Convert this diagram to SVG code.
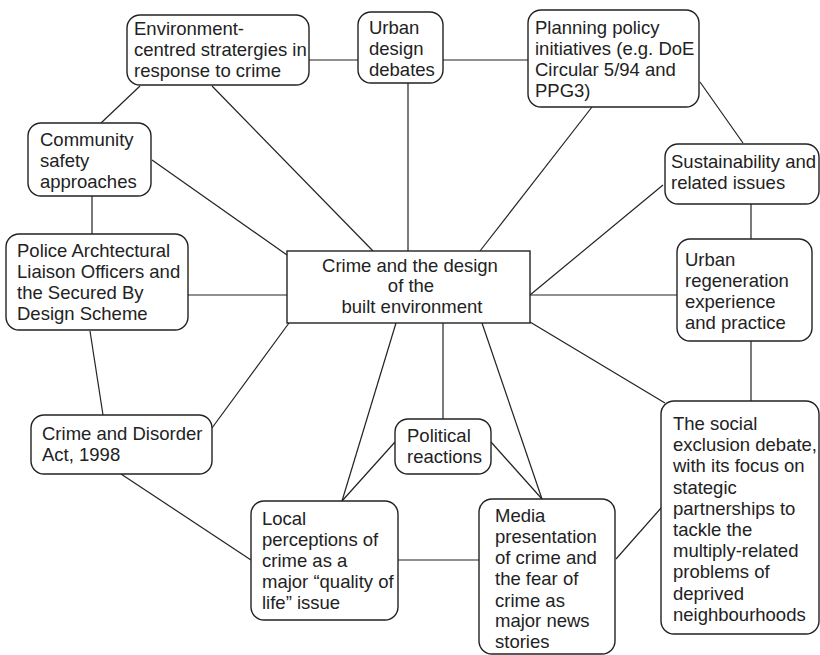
<svg xmlns="http://www.w3.org/2000/svg" width="820" height="655" viewBox="0 0 820 655">
<style>
.b{fill:#fff;stroke:#222;stroke-width:1.4}
.c{fill:#fff;stroke:#222;stroke-width:1.4}
.l{stroke:#222;stroke-width:1.2;fill:none}
text{font-family:"Liberation Sans",Arial,sans-serif;font-size:18.5px;fill:#222}
</style>
<rect width="820" height="655" fill="#fff"/>
<g id="connectors" class="l">
<line x1="309" y1="60" x2="358" y2="60"/>
<line x1="443" y1="60" x2="528" y2="60"/>
<line x1="700" y1="82" x2="743" y2="143"/>
<line x1="751" y1="204" x2="751" y2="239"/>
<line x1="140" y1="86" x2="101" y2="123"/>
<line x1="92" y1="196" x2="92" y2="234"/>
<line x1="152" y1="160" x2="287" y2="255"/>
<line x1="212" y1="86" x2="373" y2="251"/>
<line x1="408" y1="83" x2="408" y2="251"/>
<line x1="592" y1="107" x2="480" y2="251"/>
<line x1="663" y1="185" x2="530" y2="295"/>
<line x1="530" y1="295" x2="677" y2="295"/>
<line x1="188" y1="295" x2="287" y2="295"/>
<line x1="90" y1="331" x2="103" y2="415"/>
<line x1="212" y1="428" x2="289" y2="323"/>
<line x1="121" y1="474" x2="251" y2="560"/>
<line x1="342" y1="501" x2="396" y2="323"/>
<line x1="342" y1="501" x2="395" y2="442"/>
<line x1="398" y1="560" x2="480" y2="560"/>
<line x1="443" y1="323" x2="443" y2="419"/>
<line x1="491" y1="442" x2="542" y2="499"/>
<line x1="482" y1="323" x2="542" y2="499"/>
<line x1="616" y1="559" x2="661" y2="508"/>
<line x1="530" y1="322" x2="665" y2="403"/>
<line x1="751" y1="341" x2="751" y2="401"/>
</g>
<g id="center">
<rect class="c" x="287" y="251" width="243" height="72"/>
<text x="410" y="272" text-anchor="middle">Crime and the design</text>
<text x="411" y="292" text-anchor="middle">of the</text>
<text x="412" y="313" text-anchor="middle">built environment</text>
</g>
<g id="env">
<rect class="b" x="127" y="15" width="182" height="70" rx="13"/>
<text x="134" y="35">Environment-</text>
<text x="134" y="56">centred stratergies in</text>
<text x="134" y="77">response to crime</text>
</g>
<g id="urban-design">
<rect class="b" x="358" y="12" width="85" height="71" rx="13"/>
<text x="369" y="34">Urban</text>
<text x="369" y="55">design</text>
<text x="369" y="76">debates</text>
</g>
<g id="planning">
<rect class="b" x="528" y="10" width="171" height="97" rx="13"/>
<text x="535" y="34">Planning policy</text>
<text x="535" y="55">initiatives (e.g. DoE</text>
<text x="535" y="76">Circular 5/94 and</text>
<text x="535" y="97">PPG3)</text>
</g>
<g id="sustainability">
<rect class="b" x="665" y="144" width="154" height="60" rx="13"/>
<text x="671" y="168">Sustainability and</text>
<text x="671" y="189">related issues</text>
</g>
<g id="regeneration">
<rect class="b" x="677" y="239" width="135" height="102" rx="13"/>
<text x="685" y="266">Urban</text>
<text x="685" y="287">regeneration</text>
<text x="685" y="308">experience</text>
<text x="685" y="329">and practice</text>
</g>
<g id="community">
<rect class="b" x="28" y="123" width="123" height="73" rx="13"/>
<text x="40" y="146">Community</text>
<text x="40" y="167">safety</text>
<text x="40" y="188">approaches</text>
</g>
<g id="police">
<rect class="b" x="6" y="234" width="182" height="96" rx="13"/>
<text x="17" y="257">Police Archtectural</text>
<text x="17" y="278">Liaison Officers and</text>
<text x="17" y="299">the Secured By</text>
<text x="17" y="320">Design Scheme</text>
</g>
<g id="cda">
<rect class="b" x="31" y="415" width="181" height="59" rx="13"/>
<text x="42" y="440">Crime and Disorder</text>
<text x="42" y="461">Act, 1998</text>
</g>
<g id="local">
<rect class="b" x="251" y="501" width="147" height="119" rx="13"/>
<text x="262" y="525">Local</text>
<text x="262" y="546">perceptions of</text>
<text x="262" y="567">crime as a</text>
<text x="262" y="588">major “quality of</text>
<text x="262" y="609">life” issue</text>
</g>
<g id="political">
<rect class="b" x="395" y="419" width="96" height="55" rx="13"/>
<text x="407" y="442">Political</text>
<text x="407" y="463">reactions</text>
</g>
<g id="media">
<rect class="b" x="479" y="499" width="136" height="155" rx="13"/>
<text x="495" y="522">Media</text>
<text x="495" y="543">presentation</text>
<text x="495" y="564">of crime and</text>
<text x="495" y="585">the fear of</text>
<text x="495" y="607">crime as</text>
<text x="495" y="627">major news</text>
<text x="495" y="648">stories</text>
</g>
<g id="social">
<rect class="b" x="661" y="401" width="158" height="233" rx="13"/>
<text x="673" y="430">The social</text>
<text x="673" y="451">exclusion debate,</text>
<text x="673" y="472">with its focus on</text>
<text x="673" y="494">stategic</text>
<text x="673" y="515">partnerships to</text>
<text x="673" y="536">tackle the</text>
<text x="673" y="557">multiply-related</text>
<text x="673" y="578">problems of</text>
<text x="673" y="600">deprived</text>
<text x="673" y="621">neighbourhoods</text>
</g>
</svg>
